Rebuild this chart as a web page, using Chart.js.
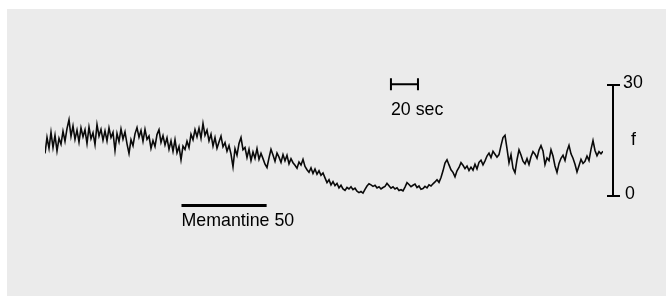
<!DOCTYPE html>
<html lang="en">
  <head>
    <meta charset="UTF-8" />
    <title>Memantine trace</title>
    <script src="https://cdn.jsdelivr.net/npm/chart.js"></script>
    <style>
      * {
        margin: 0;
        padding: 0;
        box-sizing: border-box;
      }
      body {
        background: #fff;
        width: 666px;
        height: 296px;
        overflow: hidden;
        position: relative;
      }
      .panel {
        position: absolute;
        left: 7px;
        top: 9px;
        right: 0;
        bottom: 0;
        background: #ebebeb;
      }
      canvas {
        position: absolute;
        left: 0;
        top: 0;
      }
    </style>
  </head>
  <body>
    <div class="panel"></div>
    <canvas id="trace" width="666" height="296"></canvas>

    <script>
      // f trace, one sample every 1.48 s
      const sampleStep = 1.48;
      const fValues = [
        11.5, 15.8, 12.9, 17.2, 13.1, 16.4, 12.2, 15.6, 14.0, 17.5,
        14.8, 18.2, 20.6, 16.1, 18.9, 15.3, 17.8, 14.6, 18.4, 16.0,
        17.9, 14.2, 18.6, 15.5, 17.1, 13.9, 19.3, 16.2, 18.0, 15.1,
        17.6, 14.9, 18.4, 15.8, 17.2, 12.3, 16.9, 14.7, 18.1, 15.4,
        17.3, 14.1, 11.5, 15.2, 13.6, 16.8, 18.5, 15.9, 17.7, 14.8,
        18.0, 15.3, 16.2, 12.9, 15.0, 13.4, 16.6, 17.9, 14.5, 16.3,
        13.8, 15.7, 12.6, 14.9, 12.1, 15.2, 11.7, 13.4, 9.8, 13.5,
        12.6, 14.8, 13.1, 16.7, 15.2, 17.9, 16.0, 18.3, 15.6, 19.6,
        16.4, 17.8, 14.9, 16.7, 13.5, 15.8, 12.9, 14.6, 16.2, 13.3,
        14.4, 12.1, 13.6, 11.3, 7.9, 12.8, 11.0, 14.2, 15.8, 12.5,
        13.1, 10.4, 12.6, 9.6, 11.9, 10.2, 12.8, 9.9, 11.5, 10.1,
        8.6, 7.7, 10.3, 12.6, 11.1, 9.4, 11.6, 10.5, 9.1, 11.2,
        9.5, 11.0, 8.7, 10.1, 9.0, 8.3, 7.5, 9.2, 8.4, 9.9,
        8.0, 7.1, 6.4, 7.6, 6.1, 7.3, 5.9, 6.8, 5.6, 6.2,
        4.9, 3.6, 4.4, 3.0, 3.9, 2.8, 3.4, 2.2, 2.9, 1.9,
        1.5, 2.3, 1.9, 2.5, 1.7, 2.1, 1.3, 0.9, 1.2, 0.8,
        1.8, 2.7, 3.3, 3.0, 2.6, 2.9, 2.2, 2.5, 1.9, 2.3,
        2.6, 3.4, 2.8, 2.1, 2.5, 1.9, 2.2, 1.5, 1.7, 1.4,
        2.4, 3.6, 3.1, 2.5, 2.9, 3.2, 2.3, 2.7, 1.8, 2.0,
        2.6, 2.2, 3.0, 2.7, 3.3, 3.8, 4.4, 3.7, 5.0, 6.8,
        8.9, 9.8, 8.4, 7.1, 6.4, 5.2, 6.8, 7.7, 9.0, 8.3,
        7.4, 8.1, 6.9, 7.8, 7.0, 8.6, 7.3, 9.1, 9.7, 8.4,
        9.5, 10.8, 11.6, 10.4, 12.1, 11.3, 10.5, 11.2, 13.6, 15.8,
        16.4, 12.8, 9.0, 11.2, 7.5, 6.3, 9.8, 12.5, 11.1, 9.4,
        8.7, 10.1, 8.5, 10.6, 12.0, 11.3, 10.2, 12.4, 13.6, 12.2,
        8.5, 10.3, 9.6, 12.5, 10.8, 8.1, 6.4, 8.8, 10.2, 11.0,
        9.6, 12.1, 13.7, 11.4, 10.2, 8.6, 6.5, 8.2, 9.9, 8.8,
        9.4, 10.8, 9.6, 12.6, 15.0, 12.3, 10.9, 12.0, 11.4, 12.1,
      ];

      // scale bars and marker
      const fTicks = ["0", "30"];
      const fRange = [0, 30];
      const fBarTime = 420;
      const timeBar = { start: 256, length: 20, level: 30.2, label: "20 sec" };
      const drug = { start: 101, end: 164, level: -2.6, label: "Memantine 50" };

      const points = fValues.map((v, i) => ({ x: i * sampleStep, y: v }));
      const font = '17.8px "Liberation Sans", Arial, sans-serif';
      const ink = "#000";

      const scaleBars = {
        id: "scaleBars",
        afterDraw(chart) {
          const c = chart.ctx;
          const xs = chart.scales.x;
          const ys = chart.scales.y;
          c.save();
          c.strokeStyle = ink;
          c.fillStyle = ink;
          c.font = font;
          c.textBaseline = "alphabetic";
          c.textAlign = "left";

          // vertical f bar
          const bx = Math.round(xs.getPixelForValue(fBarTime));
          const y0 = ys.getPixelForValue(fRange[0]);
          const y1 = ys.getPixelForValue(fRange[1]);
          c.lineWidth = 2;
          c.beginPath();
          c.moveTo(bx, y0);
          c.lineTo(bx, y1);
          c.moveTo(bx - 6, y0);
          c.lineTo(bx + 7, y0);
          c.moveTo(bx - 6, y1);
          c.lineTo(bx + 7, y1);
          c.stroke();
          c.fillText(fTicks[1], bx + 10, y1 + 3);
          c.fillText(fTicks[0], bx + 12, y0 + 3);
          c.fillText("f", bx + 18, ys.getPixelForValue(15) + 4.5);

          // time bar
          const tx0 = xs.getPixelForValue(timeBar.start);
          const tx1 = xs.getPixelForValue(timeBar.start + timeBar.length);
          const ty = ys.getPixelForValue(timeBar.level);
          c.beginPath();
          c.moveTo(tx0, ty);
          c.lineTo(tx1, ty);
          c.moveTo(tx0, ty - 6);
          c.lineTo(tx0, ty + 6);
          c.moveTo(tx1, ty - 6);
          c.lineTo(tx1, ty + 6);
          c.stroke();
          c.fillText(timeBar.label, tx0, ty + 31);

          // drug application
          const dx0 = xs.getPixelForValue(drug.start);
          const dx1 = xs.getPixelForValue(drug.end);
          const dy = ys.getPixelForValue(drug.level);
          c.lineWidth = 3;
          c.beginPath();
          c.moveTo(dx0, dy);
          c.lineTo(dx1, dy);
          c.stroke();
          c.fillText(drug.label, dx0, dy + 20.5);
          c.restore();
        },
      };

      new Chart(document.getElementById("trace").getContext("2d"), {
        type: "line",
        data: {
          datasets: [
            {
              data: points,
              borderColor: "#0a0a0a",
              borderWidth: 1.6,
              pointRadius: 0,
              tension: 0,
            },
          ],
        },
        options: {
          responsive: false,
          animation: false,
          devicePixelRatio: 1,
          layout: { padding: { left: 45, right: 63, top: 85, bottom: 100 } },
          scales: {
            x: { type: "linear", display: false, min: 0, max: 279 * sampleStep },
            y: { display: false, min: fRange[0], max: fRange[1] },
          },
          plugins: {
            legend: { display: false },
            tooltip: { enabled: false },
          },
        },
        plugins: [scaleBars],
      });
    </script>
  </body>
</html>
